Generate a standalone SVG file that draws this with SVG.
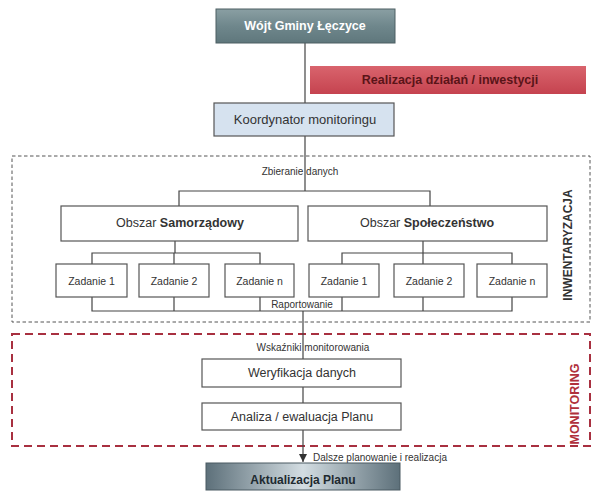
<svg xmlns="http://www.w3.org/2000/svg" width="591" height="492" viewBox="0 0 591 492">
<defs>
<linearGradient id="gWojt" x1="0" y1="0" x2="0" y2="1">
<stop offset="0" stop-color="#8a9fa3"/><stop offset="0.5" stop-color="#6f878c"/><stop offset="1" stop-color="#5f777c"/>
</linearGradient>
<linearGradient id="gRed" x1="0" y1="0" x2="0" y2="1">
<stop offset="0" stop-color="#d9646d"/><stop offset="1" stop-color="#c5434f"/>
</linearGradient>
<linearGradient id="gAkt" x1="0" y1="0" x2="1" y2="0">
<stop offset="0" stop-color="#5d707a"/><stop offset="0.5" stop-color="#d3dde2"/><stop offset="1" stop-color="#5d707a"/>
</linearGradient>
<marker id="arr" viewBox="0 0 10 10" refX="10" refY="5" markerWidth="7" markerHeight="7" orient="auto">
<path d="M0,0 L10,5 L0,10 z" fill="#333"/>
</marker>
<style>
.box{fill:#fff;stroke:#555;stroke-width:1.2}
.t{font-family:"Liberation Sans",Arial,sans-serif;fill:#333;text-anchor:middle;dominant-baseline:central}
.lbl{font-family:"Liberation Sans",Arial,sans-serif;fill:#333;font-size:10px;dominant-baseline:central}
.ln{fill:none;stroke:#444;stroke-width:1.2}
</style>
</defs>

<g id="frames">
<rect x="12" y="156" width="578" height="166" fill="none" stroke="#555" stroke-width="1" stroke-dasharray="3.5,2.5"/>
<rect x="12" y="334" width="578" height="112" fill="none" stroke="#a83040" stroke-width="2" stroke-dasharray="8,5"/>
<text class="t" x="568" y="245" font-size="12" font-weight="bold" fill="#3a3a3a" transform="rotate(-90 568 245)">INWENTARYZACJA</text>
<text class="t" x="575" y="404" font-size="12.5" font-weight="bold" style="fill:#b0303c" transform="rotate(-90 575 404)">MONITORING</text>
</g>

<g id="connectors">
<line class="ln" x1="305" y1="43" x2="305" y2="103"/>
<line class="ln" x1="305" y1="136" x2="305" y2="191"/>
<polyline class="ln" points="179,206 179,191 430,191 430,206"/>
<line class="ln" x1="175" y1="241" x2="175" y2="253"/>
<polyline class="ln" points="92,264 92,253 260,253 260,264"/>
<line class="ln" x1="174" y1="253" x2="174" y2="264"/>
<line class="ln" x1="423" y1="241" x2="423" y2="264"/>
<polyline class="ln" points="342,264 342,253 512,253 512,264"/>
<polyline class="ln" points="92,297 92,311 512,311 512,297"/>
<line class="ln" x1="174" y1="297" x2="174" y2="311"/>
<line class="ln" x1="260" y1="297" x2="260" y2="311"/>
<line class="ln" x1="342" y1="297" x2="342" y2="311"/>
<line class="ln" x1="423" y1="297" x2="423" y2="311"/>
<line class="ln" x1="303" y1="311" x2="303" y2="359"/>
<line class="ln" x1="303" y1="387" x2="303" y2="403"/>
<line class="ln" x1="303" y1="430" x2="303" y2="462" marker-end="url(#arr)"/>
<text class="lbl" x="300" y="171" text-anchor="middle">Zbieranie danych</text>
<rect x="262" y="297.5" width="79" height="12" fill="#fff"/>
<text class="lbl" x="302" y="304" text-anchor="middle" font-size="11.5">Raportowanie</text>
<text class="lbl" x="313" y="347" text-anchor="middle">Wskaźniki monitorowania</text>
<text class="lbl" x="313" y="457" font-size="11">Dalsze planowanie i realizacja</text>
</g>

<g id="wojt">
<rect x="216" y="9" width="179" height="34" fill="url(#gWojt)" stroke="#4d5f63" stroke-width="1"/>
<text class="t" x="305" y="26" font-size="12.5" font-weight="bold" style="fill:#fff">Wójt Gminy Łęczyce</text>
</g>

<g id="realizacja">
<rect x="310" y="66" width="276" height="28" fill="url(#gRed)"/>
<text class="t" x="450" y="80" font-size="12.5" font-weight="bold" style="fill:#5a1418">Realizacja działań / inwestycji</text>
</g>

<g id="koordynator">
<rect x="214" y="103" width="180" height="33" fill="#d6e2ef" stroke="#555" stroke-width="1.2"/>
<text class="t" x="305" y="119" font-size="13">Koordynator monitoringu</text>
</g>

<g id="samorzadowy">
<rect class="box" x="61" y="206" width="237" height="35"/>
<text class="t" x="180" y="223" font-size="12.5">Obszar <tspan font-weight="bold">Samorządowy</tspan></text>
</g>
<g id="spoleczenstwo">
<rect class="box" x="308" y="206" width="239" height="35"/>
<text class="t" x="427" y="223" font-size="12.5">Obszar <tspan font-weight="bold">Społeczeństwo</tspan></text>
</g>

<g id="s-zad1"><rect class="box" x="56" y="264" width="71" height="33"/><text class="t" x="91.5" y="280.5" font-size="10.5">Zadanie 1</text></g>
<g id="s-zad2"><rect class="box" x="139" y="264" width="70" height="33"/><text class="t" x="174" y="280.5" font-size="10.5">Zadanie 2</text></g>
<g id="s-zadn"><rect class="box" x="225" y="264" width="69" height="33"/><text class="t" x="259.5" y="280.5" font-size="10.5">Zadanie n</text></g>
<g id="p-zad1"><rect class="box" x="309" y="264" width="70" height="33"/><text class="t" x="344" y="280.5" font-size="10.5">Zadanie 1</text></g>
<g id="p-zad2"><rect class="box" x="394" y="264" width="70" height="33"/><text class="t" x="429" y="280.5" font-size="10.5">Zadanie 2</text></g>
<g id="p-zadn"><rect class="box" x="477" y="264" width="70" height="33"/><text class="t" x="512" y="280.5" font-size="10.5">Zadanie n</text></g>

<g id="weryfikacja"><rect class="box" x="202" y="359" width="199" height="28"/><text class="t" x="302" y="373" font-size="12.5">Weryfikacja danych</text></g>
<g id="analiza"><rect class="box" x="202" y="403" width="199" height="27"/><text class="t" x="302" y="416.5" font-size="12.5">Analiza / ewaluacja Planu</text></g>

<g id="aktualizacja">
<rect x="206" y="463" width="194" height="27" fill="url(#gAkt)" stroke="#4a5a62" stroke-width="1"/>
<text class="t" x="303" y="480" font-size="12" font-weight="bold" style="fill:#1e2a30">Aktualizacja Planu</text>
</g>
</svg>
